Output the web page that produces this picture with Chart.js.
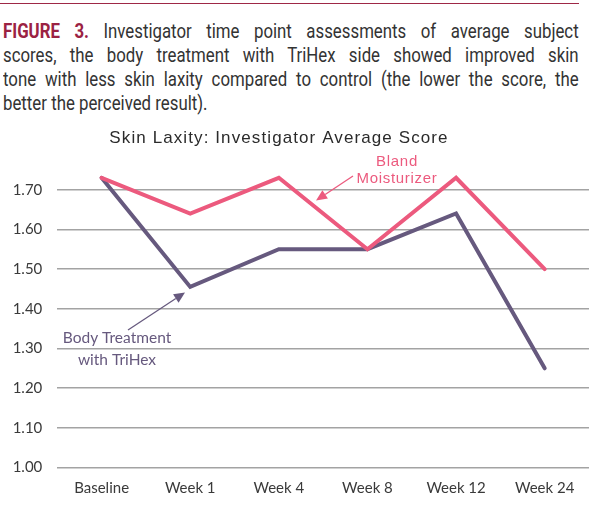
<!DOCTYPE html>
<html>
<head>
<meta charset="utf-8">
<script src="https://cdn.jsdelivr.net/npm/chart.js@4"></script>
<style>
  html, body { margin: 0; padding: 0; background: #fff; }
  body { width: 600px; height: 509px; position: relative; overflow: hidden; }
  #rule { position: absolute; left: 0; top: 2.5px; width: 579px; height: 1.5px; background: #9e2846; }
  #caption {
    position: absolute; left: 3px; top: 19px; width: 702px;
    transform: scaleX(0.82); transform-origin: 0 0;
    font-family: Roboto, "Liberation Sans", sans-serif;
    font-size: 20.5px; line-height: 24px; color: #333;
  }
  #caption .ln { display: block; text-align: justify; text-align-last: justify; white-space: nowrap; }
  #caption .ln.last { text-align-last: left; }
  #caption b { color: #9b2243; font-weight: bold; }
  #wrap { position: absolute; left: 0; top: 0; width: 600px; height: 509px; }
</style>
</head>
<body>
<div id="rule"></div>
<div id="caption"><span class="ln"><b>FIGURE 3.</b> Investigator time point assessments of average subject</span><span class="ln">scores, the body treatment with TriHex side showed improved skin</span><span class="ln">tone with less skin laxity compared to control (the lower the score, the</span><span class="ln last">better the perceived result).</span></div>
<div id="wrap"><canvas id="c" width="600" height="509"></canvas></div>
<script>
const categories = ["Baseline", "Week 1", "Week 4", "Week 8", "Week 12", "Week 24"];
const blandMoisturizer = [1.73, 1.64, 1.73, 1.55, 1.73, 1.50];
const bodyTrihex = [1.73, 1.455, 1.55, 1.55, 1.64, 1.25];
const chartTitle = "Skin Laxity: Investigator Average Score";

const PINK = "#ec5a7e";
const PURPLE = "#66597e";

const annot = {
  id: "annot",
  afterDraw(chart) {
    const ctx = chart.ctx;
    ctx.save();
    // title
    ctx.fillStyle = "#2b2b2b";
    ctx.font = "17px 'Liberation Sans', Arial, sans-serif";
    ctx.letterSpacing = "1.1px";
    ctx.textAlign = "center";
    ctx.textBaseline = "alphabetic";
    ctx.fillText(chartTitle, 279, 142.5);

    function arrow(x1, y1, x2, y2, color) {
      const ang = Math.atan2(y2 - y1, x2 - x1);
      const L = 11, W = 5;
      const bx = x2 - L * Math.cos(ang), by = y2 - L * Math.sin(ang);
      ctx.strokeStyle = color; ctx.lineWidth = 1.3;
      ctx.beginPath(); ctx.moveTo(x1, y1); ctx.lineTo(bx, by); ctx.stroke();
      ctx.fillStyle = color;
      ctx.beginPath();
      ctx.moveTo(x2, y2);
      ctx.lineTo(bx + W * Math.sin(ang), by - W * Math.cos(ang));
      ctx.lineTo(bx - W * Math.sin(ang), by + W * Math.cos(ang));
      ctx.closePath(); ctx.fill();
    }

    // Bland Moisturizer label
    ctx.fillStyle = PINK;
    ctx.font = "15px 'Liberation Sans', Arial, sans-serif";
    ctx.letterSpacing = "0.7px";
    ctx.textBaseline = "middle";
    ctx.fillText("Bland", 397, 162);
    ctx.fillText("Moisturizer", 397, 178.5);
    arrow(353, 176, 316, 200.5, PINK);

    // Body Treatment label
    ctx.fillStyle = PURPLE;
    ctx.font = "15.5px Lato, sans-serif";
    ctx.letterSpacing = "0px";
    ctx.fillText("Body Treatment", 117, 338);
    ctx.fillText("with TriHex", 117, 359.5);
    arrow(128, 330, 185, 292.5, PURPLE);
    ctx.restore();
  }
};

new Chart(document.getElementById("c"), {
  type: "line",
  data: {
    labels: categories,
    datasets: [
      { label: "Bland Moisturizer", data: blandMoisturizer, borderColor: PINK, borderWidth: 4, pointRadius: 0, tension: 0, borderCapStyle: "round", borderJoinStyle: "miter", fill: false },
      { label: "Body Treatment with TriHex", data: bodyTrihex, borderColor: PURPLE, borderWidth: 4, pointRadius: 0, tension: 0, borderCapStyle: "round", borderJoinStyle: "miter", fill: false }
    ]
  },
  options: {
    responsive: false,
    animation: false,
    devicePixelRatio: 1,
    layout: { padding: { top: 150, right: 11, bottom: 12, left: 0 } },
    plugins: { legend: { display: false }, tooltip: { enabled: false }, title: { display: false } },
    scales: {
      x: {
        offset: true,
        grid: { display: false, drawTicks: false },
        border: { display: false },
        ticks: { color: "#3a3a3a", font: { family: "Lato", size: 15 }, padding: 12, maxRotation: 0 },
        afterFit(s) { s.height = 29.5; }
      },
      y: {
        min: 1.0, max: 1.8,
        grid: {
          drawTicks: false,
          color: (c) => (c.tick && Math.abs(c.tick.value - 1.8) < 1e-6) ? "rgba(0,0,0,0)" : "#a3a3a3",
          lineWidth: 1.6
        },
        border: { display: false },
        ticks: {
          stepSize: 0.1,
          color: "#3a3a3a",
          font: { family: "Lato", size: 15 },
          padding: 15,
          callback: (v) => Math.abs(v - 1.8) < 1e-6 ? "" : v.toFixed(2)
        },
        afterFit(s) { s.width = 57.3; }
      }
    }
  },
  plugins: [annot]
});
</script>
</body>
</html>
